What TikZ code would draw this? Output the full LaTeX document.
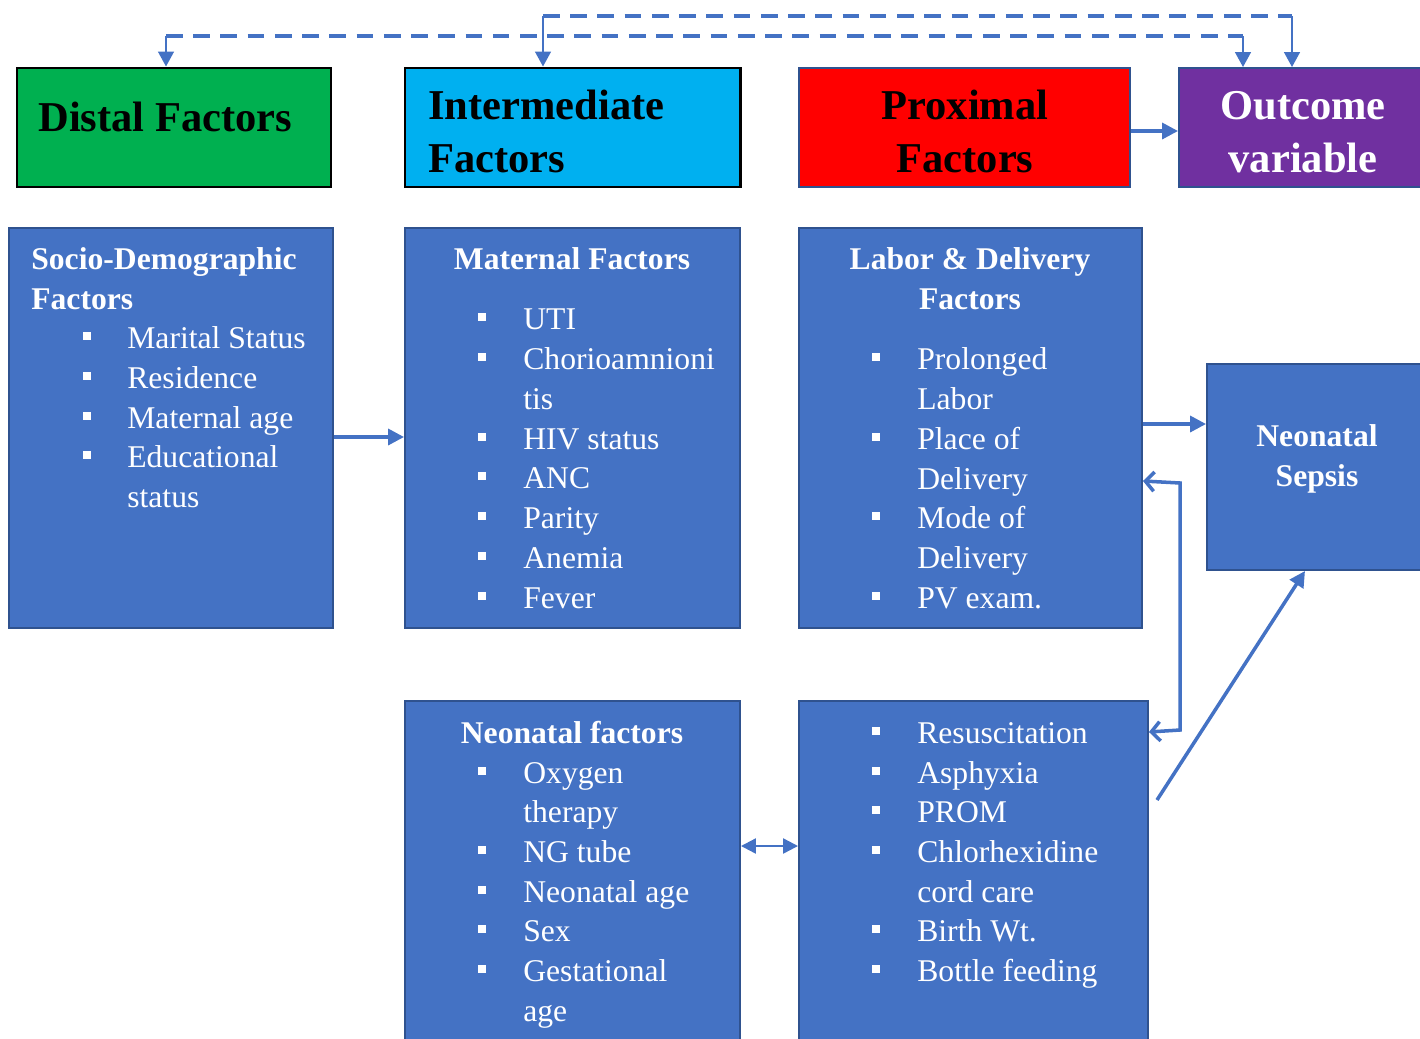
\documentclass[tikz,border=0pt]{standalone}
\usepackage{fontspec}
\setmainfont{Liberation Serif}
\usepackage{tikz}
\usetikzlibrary{arrows.meta, positioning, fit, calc}
\definecolor{boxblue}{HTML}{4472C4}
\definecolor{edgeblue}{HTML}{2F528F}
\definecolor{distgreen}{HTML}{00B050}
\definecolor{intcyan}{HTML}{00B0F0}
\definecolor{outpurple}{HTML}{7030A0}
\newcommand{\bodyfont}{\fontsize{18}{22}\selectfont}
\newcommand{\headfont}{\fontsize{24.2}{30}\selectfont\bfseries}

\begin{document}
\begin{tikzpicture}[x=0.02cm, y=-0.02cm,
  box/.style={draw=edgeblue, line width=1.1pt, fill=boxblue, inner sep=0pt},
  headbox/.style={draw=black, line width=1.7pt, inner sep=0pt},
  item/.style={anchor=base west, inner sep=0pt, text=white, font=\bodyfont},
  boxtitle/.style={anchor=base, inner sep=0pt, text=white, font=\bodyfont\bfseries},
  headtxt/.style={anchor=base, inner sep=0pt, font=\headfont},
  link/.style={draw=boxblue, line width=2pt, -{Triangle[length=9pt,width=9pt]}},
  dashlink/.style={draw=boxblue, line width=2.2pt, dash pattern=on 9.5pt off 6pt},
  droplink/.style={draw=boxblue, line width=1.1pt, -{Triangle[length=8.5pt,width=9pt]}}]
\useasboundingbox (0,0) rectangle (1420,1038);

% Top row
\node[headbox, fill=distgreen, fit={(17,68) (331,187)}] (distal) {};
\node[headbox, fill=intcyan, fit={(405,68) (740,187)}] (inter) {};
\node[box, fill=red, fit={(799,68) (1130,187)}] (prox) {};
\node[box, fill=outpurple, fit={(1179,68) (1470,187)}] (outc) {};

\node[headtxt, anchor=base west] (distal-t) at (38,131) {Distal Factors};
\node[headtxt, anchor=base west] (inter-t1) at (428,119) {Intermediate};
\node[headtxt, anchor=base west] (inter-t2) at (428,172) {Factors};
\node[headtxt] (prox-t1) at (965,119) {Proximal};
\node[headtxt] (prox-t2) at (965,172) {Factors};
\node[headtxt, text=white] (outc-t1) at (1303,119) {Outcome};
\node[headtxt, text=white] (outc-t2) at (1303,172) {variable};

% Factor boxes
\node[box, fit={(9,228) (333,628)}] (socio) {};
\node[box, fit={(405,228) (740,628)}] (mat) {};
\node[box, fit={(799,228) (1142,628)}] (labor) {};
\node[box, fit={(1207,364) (1470,570)}] (sepsis) {};
\node[box, fit={(405,701) (740,1070)}] (neo) {};
\node[box, fit={(799,701) (1148,1070)}] (resus) {};

% Titles
\node[boxtitle, anchor=base west] (socio-t1) at (31,269) {Socio-Demographic};
\node[boxtitle, anchor=base west] (socio-t2) at (31,309) {Factors};
\node[boxtitle] (mat-t) at (572,269) {Maternal Factors};
\node[boxtitle] (labor-t1) at (970,269) {Labor \& Delivery};
\node[boxtitle] (labor-t2) at (970,309) {Factors};
\node[boxtitle] (neo-t) at (572,743) {Neonatal factors};
\node[boxtitle] (sepsis-t1) at (1317,446) {Neonatal};
\node[boxtitle] (sepsis-t2) at (1317,486) {Sepsis};

% Bullet lists
\foreach \y/\b/\t in {338/1/Marital Status, 378/1/Residence, 418/1/Maternal age,
    457/1/Educational, 497/0/status} {
  \node[item] (socio-\y) at (127,\y+10) {\t};
  \ifnum\b=1 \fill[white] (83,\y-6) rectangle (91,\y+2); \fi
}
\foreach \y/\b/\t in {319/1/UTI, 359/1/Chorioamnioni, 399/0/tis, 439/1/HIV status,
    478/1/ANC, 518/1/Parity, 558/1/Anemia, 598/1/Fever} {
  \node[item] (mat-\y) at (523,\y+10) {\t};
  \ifnum\b=1 \fill[white] (478,\y-6) rectangle (486,\y+2); \fi
}
\foreach \y/\b/\t in {359/1/Prolonged, 399/0/Labor, 439/1/Place of, 479/0/Delivery,
    518/1/Mode of, 558/0/Delivery, 598/1/PV exam.} {
  \node[item] (labor-\y) at (917,\y+10) {\t};
  \ifnum\b=1 \fill[white] (872,\y-6) rectangle (880,\y+2); \fi
}
\foreach \y/\b/\t in {773/1/Oxygen, 812/0/therapy, 852/1/NG tube, 892/1/Neonatal age,
    931/1/Sex, 971/1/Gestational, 1011/0/age} {
  \node[item] (neo-\y) at (523,\y+10) {\t};
  \ifnum\b=1 \fill[white] (478,\y-6) rectangle (486,\y+2); \fi
}
\foreach \y/\b/\t in {733/1/Resuscitation, 773/1/Asphyxia, 812/1/PROM, 852/1/Chlorhexidine,
    892/0/cord care, 931/1/Birth Wt., 971/1/Bottle feeding} {
  \node[item] (resus-\y) at (917,\y+10) {\t};
  \ifnum\b=1 \fill[white] (872,\y-6) rectangle (880,\y+2); \fi
}

% Dashed links on top
\coordinate (dl) at (166,36);
\coordinate (dr) at (1243,36);
\coordinate (ul) at (543,16);
\coordinate (ur) at (1292,16);
\draw[dashlink] (dl) -- (dr);
\draw[dashlink] (ul) -- (ur);
\draw[droplink] (dl) -- (dl |- distal.north);
\draw[droplink] (dr) -- (dr |- outc.north);
\draw[droplink] (ul) -- (ul |- inter.north);
\draw[droplink] (ur) -- (ur |- outc.north);

% Solid links
\draw[link] (prox.east |- 0,131) -- (outc.west |- 0,131);
\draw[link] (socio.east |- 0,437) -- (mat.west |- 0,437);
\draw[link] (labor.east |- 0,424) -- (sepsis.west |- 0,424);
\coordinate (loopa) at (1180,483);
\coordinate (loopb) at (1180,730);
\draw[boxblue, line width=2pt, {Straight Barb[length=5pt,width=11pt]}-{Straight Barb[length=5pt,width=11pt]}]
  (labor.east |- 0,481) -- (loopa) -- (loopb) -- (resus.east |- 0,732);
\coordinate (diag) at (1157,800);
\draw[link] (diag) -- (1305,0 |- sepsis.south);
\draw[boxblue, line width=1.3pt, {Triangle[length=8.5pt,width=8.5pt]}-{Triangle[length=8.5pt,width=8.5pt]}]
  (neo.east |- 0,846) -- (resus.west |- 0,846);
\end{tikzpicture}
\end{document}
